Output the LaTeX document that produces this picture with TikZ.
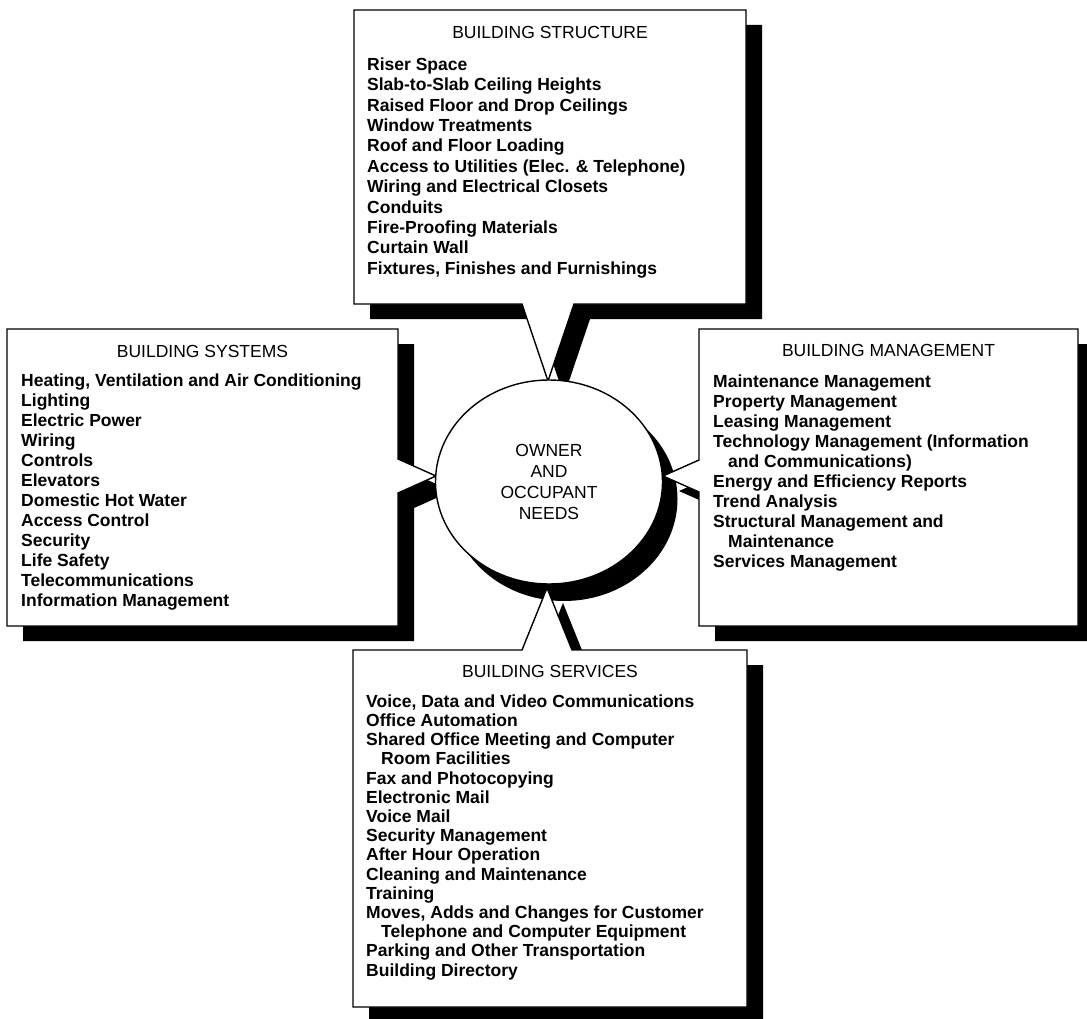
\documentclass[tikz,border=0pt]{standalone}
\usepackage{fontspec}
\setmainfont{Liberation Sans}
\usetikzlibrary{shapes.geometric}
\begin{document}
\begin{tikzpicture}[x=1pt,y=-1pt,
  panel/.style={fill=white,draw=black,line width=1.4pt,line join=miter},
  panelshadow/.style={fill=black,shift={(16,15)}},
  heading/.style={font=\fontsize{17.5}{19.5}\selectfont,inner sep=0pt,anchor=base},
  itemlist/.style={font=\bfseries\fontsize{17.5}{#1}\selectfont,align=left,inner sep=0pt,anchor=north west},
  itemlist/.default=19.5,
  hub/.style={ellipse,fill=white,draw=black,line width=1.4pt,inner sep=0pt,
    minimum width=227pt,minimum height=204pt,align=center,
    font=\fontsize{17.5}{21}\selectfont}]
\useasboundingbox (0,0) rectangle (1087,1019);

% callout outlines: box plus pointer towards the hub
\def\structurepath{(354,10) -- (746,10) -- (746,304) -- (574,304) -- (548,381) -- (522,304) -- (354,304) -- cycle}
\def\systemspath{(7,329) -- (398,329) -- (398,459) -- (436,476) -- (398,493) -- (398,626) -- (7,626) -- cycle}
\def\managementpath{(699,329) -- (1078,329) -- (1078,626) -- (699,626) -- (699,492) -- (663,476) -- (699,460) -- cycle}
\def\servicespath{(353,650) -- (522,650) -- (547,588) -- (572,650) -- (747,650) -- (747,1007) -- (353,1007) -- cycle}

% hub shadow
\fill[black] (564,499) ellipse [x radius=113.5, y radius=102];

% callout shadows
\fill[panelshadow] \structurepath;
\fill[panelshadow] \systemspath;
\fill[panelshadow] \managementpath;
\fill[panelshadow] \servicespath;

% callouts
\filldraw[panel] \structurepath;
\filldraw[panel] \systemspath;
\filldraw[panel] \managementpath;
\filldraw[panel] \servicespath;

% hub
\node[hub] (needs) at (549,482) {OWNER\\AND\\OCCUPANT\\NEEDS};

% Building Structure
\node[heading] (structure-title) at (550,39) {BUILDING STRUCTURE};
\node[itemlist=20.4] (structure-items) at (367,57.5) {Riser Space\\
Slab-to-Slab Ceiling Heights\\
Raised Floor and Drop Ceilings\\
Window Treatments\\
Roof and Floor Loading\\
Access to Utilities (Elec. \& Telephone)\\
Wiring and Electrical Closets\\
Conduits\\
Fire-Proofing Materials\\
Curtain Wall\\
Fixtures, Finishes and Furnishings};

% Building Systems
\node[heading] (systems-title) at (202.5,357) {BUILDING SYSTEMS};
\node[itemlist=20] (systems-items) at (21,373.5) {Heating, Ventilation and Air Conditioning\\
Lighting\\
Electric Power\\
Wiring\\
Controls\\
Elevators\\
Domestic Hot Water\\
Access Control\\
Security\\
Life Safety\\
Telecommunications\\
Information Management};

% Building Management
\node[heading] (management-title) at (888.5,356) {BUILDING MANAGEMENT};
\node[itemlist=20] (management-items) at (713,374.5) {Maintenance Management\\
Property Management\\
Leasing Management\\
Technology Management (Information\\
\hspace*{15pt}and Communications)\\
Energy and Efficiency Reports\\
Trend Analysis\\
Structural Management and\\
\hspace*{15pt}Maintenance\\
Services Management};

% Building Services
\node[heading] (services-title) at (550,677) {BUILDING SERVICES};
\node[itemlist=19.2] (services-items) at (366,694.5) {Voice, Data and Video Communications\\
Office Automation\\
Shared Office Meeting and Computer\\
\hspace*{15pt}Room Facilities\\
Fax and Photocopying\\
Electronic Mail\\
Voice Mail\\
Security Management\\
After Hour Operation\\
Cleaning and Maintenance\\
Training\\
Moves, Adds and Changes for Customer\\
\hspace*{15pt}Telephone and Computer Equipment\\
Parking and Other Transportation\\
Building Directory};
\end{tikzpicture}
\end{document}
